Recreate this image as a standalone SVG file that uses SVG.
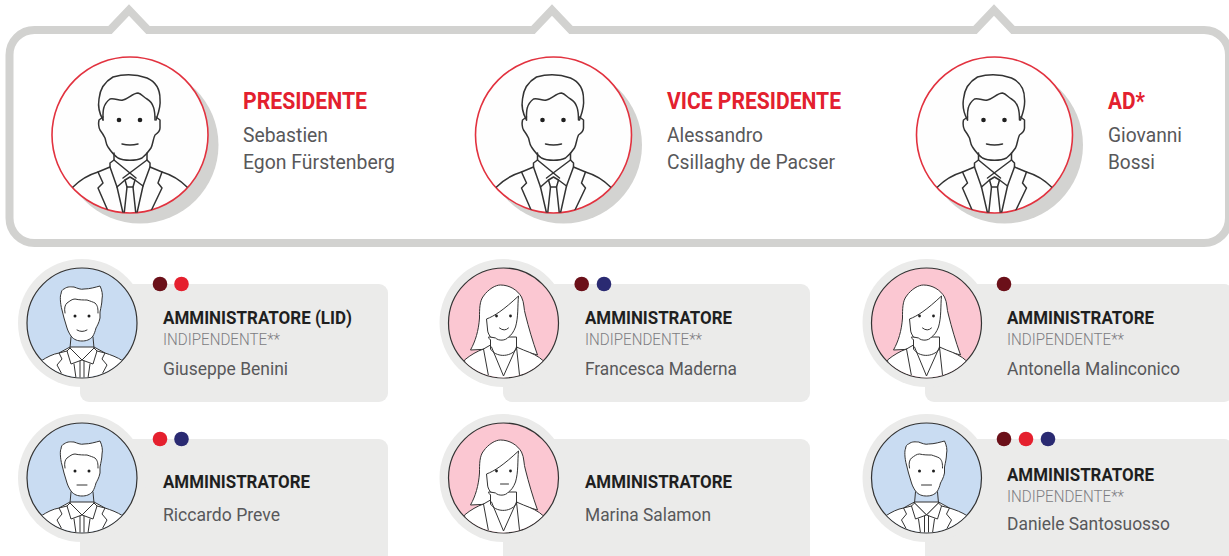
<svg xmlns="http://www.w3.org/2000/svg" xmlns:xlink="http://www.w3.org/1999/xlink" width="1229" height="556" viewBox="0 0 1229 556">
<style>
text{font-family:Roboto,"Liberation Sans",sans-serif}
.ln{fill:none;stroke:#333;stroke-width:1.5;stroke-linejoin:round;stroke-linecap:round}
.sl{fill:none;stroke:#333;stroke-width:1;stroke-linejoin:round;stroke-linecap:round}
.wf{fill:#fff;stroke:#333;stroke-width:1;stroke-linejoin:round}
.role{font-size:24px;font-weight:700;fill:#e3202e}
.name{font-size:21px;font-weight:400;fill:#58585a}
.t{font-size:18.500px;font-weight:700;fill:#1f1f1f}
.i{font-size:16.500px;font-weight:300;fill:#7d7d82}
.n{font-size:18px;font-weight:400;fill:#58585a}
.card{fill:#ebebea}
.big{fill:#fefefe;stroke:#e2323f;stroke-width:1.6}
.shadow{fill:#d3d3d1}
.dk{fill:#6b1019}.rd{fill:#e5202e}.nv{fill:#2a2a72}
.bl{fill:#c9dcf2;stroke:#333;stroke-width:1.2}
.pk{fill:#fbc7d2;stroke:#333;stroke-width:1.2}
</style>
<defs>
<clipPath id="cb"><circle r="78"/></clipPath>
<clipPath id="cs"><circle r="54.5"/></clipPath>
<g id="bigman" clip-path="url(#cb)">
<path class="ln" d="M-27-15C-31-22-32-30-31-36C-30-47-24-54-17-58C-7-61 6-61 17-57C26-53 30-46 30-36C31-28 28-21 26-15"/>
<path class="ln" d="M-27-15C-27-22-28-30-20-36C-15-37-11-34-7-35C-2-36 3-42 8-42C12-41 13-38 17-36C24-32 25-24 25-15"/>
<path class="ln" d="M-27-18L-31-15C-32-10-31-7-30-5C-27-1-26 1-25 3C-24 6-24 10-22 12C-18 18-15 21-12 23C-6 26 6 26 12 23C16 20 19 16 21 13C23 9 23 4 25 0C28-2 30-4 30-7L30-15L26-18"/>
<circle cx="-11" cy="-15" r="2.300" fill="#1f1f1f"/><circle cx="10" cy="-15" r="2.300" fill="#1f1f1f"/>
<path class="ln" d="M-8 9Q0 11 8 9"/>
<path class="ln" d="M-16 18V25L6 43M17 18V25L-7 43"/>
<path class="ln" d="M-16 25L-20 28V32L-13 52L-5 45L0 42L5 45L13 51L20 32V28L17 25"/>
<path class="ln" d="M-5 45L-3 52H3L5 45"/>
<path class="ln" d="M-3 52L-6 80M3 52L6 80M-13 52L-7 78M13 51L7 78"/>
<path class="ln" d="M-20 32L-32 37L-27 48L-32 53L-22 76M20 32L32 37L28 48L32 53L21 76"/>
<path class="ln" d="M-32 37C-42 40-50 45-57 52M32 37C42 40 50 45 57 52"/>
</g>
<g id="smallman" clip-path="url(#cs)">
<path class="wf" d="M-41 38C-35 34-29 31-23 30L-12 24H12L23 30C29 32 35 34 41 38L36 55H-36Z"/>
<path class="wf" d="M-20-13C-22-20-22-28-21-29C-21-32-19-34-18-34C-14-37-11-36-8-36C-5-35-1-33 2-34C8-34 14-36 18-37C20-33 21-28 20-24C20-20 19-16 18-11L18-5C17 0 15 3 14 5C13 9 12 11 11 13C8 17 4 18 0 18C-4 18-8 17-11 13C-13 10-14 8-15 5C-16 2-17-2-18-5Z"/>
<path class="sl" d="M-17-10C-18-15-17-18-15-20C-12-22-10-24-7-24C-3-23 2-23 5-23C8-22 11-21 13-20C16-17 16-14 16-10"/>
<path class="sl" d="M-11 14L-12 25L0 37L12 25L11 14"/>
<path class="wf" d="M-12 25L-15 28L-11 41L0 37L11 41L15 28L12 25L0 37Z"/>
<path class="sl" d="M-2 38V55M2 38V55M-8 41L-6 55M8 41L6 55"/>
<path class="sl" d="M-15 28L-23 30L-20 36L-25 42L-18 55M15 28L23 30L20 36L25 42L18 55"/>
<circle cx="-7" cy="-7" r="1.500" fill="#1f1f1f"/><circle cx="7" cy="-7" r="1.500" fill="#1f1f1f"/>
</g>
<g id="woman" clip-path="url(#cs)">
<path class="wf" d="M-33 27C-28 18-25 8-24-5C-24-14-24-22-20-27C-15-34-8-38-3-38C6-38 14-33 18-26C21-20 20-14 22-8C25 4 29 18 34 32L13 26H-13Z"/>
<path class="wf" d="M-39 37C-33 32-26 28-20 26L-13 22V17C-14 16-15 15-15 14L13 14V24L20 27C28 30 35 33 40 38L36 56H-36Z"/>
<path class="wf" d="M-13 14C-15 11-16 9-16 6L-17-4C-9-7 0-13 15-27C14-18 15-6 12 4C10 9 8 12 5 14C2 18-5 18-8 15Z"/>
<path class="sl" d="M-13 17V26C-8 34 6 35 13 26V16"/>
<path class="sl" d="M-20 26L-15 53M-12 24L0 53L13 24M13 24L16 52"/>
<circle cx="-7" cy="-7" r="1.400" fill="#1f1f1f"/><circle cx="7" cy="-7" r="1.400" fill="#1f1f1f"/>
</g>
<path id="smile" class="sl" d="M-5 7Q0 10 5 7"/>
<path id="flat" class="sl" d="M-5 7H5"/>
<path id="wsmile" class="sl" d="M-4 5Q1 9 5 5"/>
<path id="wflat" class="sl" d="M-3 6H5"/>
</defs>
<rect width="1229" height="556" fill="#fff"/>
<g id="connectors"></g>
<g id="frame">
<path d="M129 10L148 30H533L552 10L571 30H975L994 10L1013 30H1204C1218 30 1229 41 1229 55V218C1229 232 1218 243 1204 243H34.500C20.500 243 9.500 232 9.500 218V55C9.500 41 20.500 30 34.500 30H110Z" fill="#fff" stroke="#d2d2d0" stroke-width="8"/>
</g>
<g id="presidente">
<circle class="shadow" cx="140" cy="145" r="78.500"/>
<circle class="big" cx="130" cy="135" r="78"/>
<use href="#bigman" transform="translate(130 135)"/>
<text class="role" x="243" y="109" textLength="124" lengthAdjust="spacingAndGlyphs">PRESIDENTE</text>
<text class="name" x="243" y="142" textLength="85" lengthAdjust="spacingAndGlyphs">Sebastien</text>
<text class="name" x="243" y="169" textLength="152" lengthAdjust="spacingAndGlyphs">Egon Fürstenberg</text>
</g>
<g id="vice-presidente">
<circle class="shadow" cx="563.500" cy="145" r="78.500"/>
<circle class="big" cx="553.500" cy="135" r="78"/>
<use href="#bigman" transform="translate(553.500 135)"/>
<text class="role" x="667" y="109" textLength="174" lengthAdjust="spacingAndGlyphs">VICE PRESIDENTE</text>
<text class="name" x="667" y="142" textLength="96" lengthAdjust="spacingAndGlyphs">Alessandro</text>
<text class="name" x="667" y="169" textLength="168" lengthAdjust="spacingAndGlyphs">Csillaghy de Pacser</text>
</g>
<g id="ad">
<circle class="shadow" cx="1004.500" cy="145" r="78.500"/>
<circle class="big" cx="994.500" cy="135" r="78"/>
<use href="#bigman" transform="translate(994.500 135)"/>
<text class="role" x="1108" y="109" textLength="37" lengthAdjust="spacingAndGlyphs">AD*</text>
<text class="name" x="1108" y="142" textLength="74" lengthAdjust="spacingAndGlyphs">Giovanni</text>
<text class="name" x="1108" y="169" textLength="47" lengthAdjust="spacingAndGlyphs">Bossi</text>
</g>
<g id="benini">
<rect class="card" x="80" y="284" width="308" height="118" rx="9"/>
<circle class="card" cx="82" cy="323" r="64"/>
<circle class="bl" cx="82" cy="323" r="55"/>
<use href="#smallman" transform="translate(82 323)"/><use href="#smile" transform="translate(82 323)"/>
<circle class="dk" cx="160" cy="284" r="7.300"/><circle class="rd" cx="181.500" cy="284" r="7.300"/>
<text class="t" x="163" y="324" textLength="189" lengthAdjust="spacingAndGlyphs">AMMINISTRATORE (LID)</text>
<text class="i" x="163" y="345" textLength="117" lengthAdjust="spacingAndGlyphs">INDIPENDENTE**</text>
<text class="n" x="163" y="375" textLength="125" lengthAdjust="spacingAndGlyphs">Giuseppe Benini</text>
</g>
<g id="maderna">
<rect class="card" x="503" y="284" width="307" height="118" rx="9"/>
<circle class="card" cx="503.500" cy="323" r="64"/>
<circle class="pk" cx="503.500" cy="323" r="55"/>
<use href="#woman" transform="translate(503.500 323)"/><use href="#wsmile" transform="translate(503.500 323)"/>
<circle class="dk" cx="581.700" cy="284" r="7.300"/><circle class="nv" cx="604" cy="284" r="7.300"/>
<text class="t" x="585" y="324" textLength="147" lengthAdjust="spacingAndGlyphs">AMMINISTRATORE</text>
<text class="i" x="585" y="345" textLength="117" lengthAdjust="spacingAndGlyphs">INDIPENDENTE**</text>
<text class="n" x="585" y="375" textLength="152" lengthAdjust="spacingAndGlyphs">Francesca Maderna</text>
</g>
<g id="malinconico">
<rect class="card" x="925" y="284" width="308" height="118" rx="9"/>
<circle class="card" cx="926.500" cy="323" r="64"/>
<circle class="pk" cx="926.500" cy="323" r="55"/>
<use href="#woman" transform="translate(926.500 323)"/><use href="#wsmile" transform="translate(926.500 323)"/>
<circle class="dk" cx="1004" cy="284" r="7.300"/>
<text class="t" x="1007" y="324" textLength="147" lengthAdjust="spacingAndGlyphs">AMMINISTRATORE</text>
<text class="i" x="1007" y="345" textLength="117" lengthAdjust="spacingAndGlyphs">INDIPENDENTE**</text>
<text class="n" x="1007" y="375" textLength="173" lengthAdjust="spacingAndGlyphs">Antonella Malinconico</text>
</g>
<g id="preve">
<rect class="card" x="80" y="439" width="308" height="125" rx="9"/>
<circle class="card" cx="82" cy="478" r="64"/>
<circle class="bl" cx="82" cy="478" r="55"/>
<use href="#smallman" transform="translate(82 478)"/><use href="#flat" transform="translate(82 478)"/>
<circle class="rd" cx="160" cy="439" r="7.300"/><circle class="nv" cx="181.500" cy="439" r="7.300"/>
<text class="t" x="163" y="488" textLength="147" lengthAdjust="spacingAndGlyphs">AMMINISTRATORE</text>
<text class="n" x="163" y="521" textLength="117" lengthAdjust="spacingAndGlyphs">Riccardo Preve</text>
</g>
<g id="salamon">
<rect class="card" x="503" y="439" width="307" height="125" rx="9"/>
<circle class="card" cx="503.500" cy="478" r="64"/>
<circle class="pk" cx="503.500" cy="478" r="55"/>
<use href="#woman" transform="translate(503.500 478)"/><use href="#wflat" transform="translate(503.500 478)"/>
<text class="t" x="585" y="488" textLength="147" lengthAdjust="spacingAndGlyphs">AMMINISTRATORE</text>
<text class="n" x="585" y="521" textLength="126" lengthAdjust="spacingAndGlyphs">Marina Salamon</text>
</g>
<g id="santosuosso">
<rect class="card" x="925" y="439" width="308" height="125" rx="9"/>
<circle class="card" cx="926.500" cy="478" r="64"/>
<circle class="bl" cx="926.500" cy="478" r="55"/>
<use href="#smallman" transform="translate(926.500 478)"/><use href="#flat" transform="translate(926.500 478)"/>
<circle class="dk" cx="1004" cy="439" r="7.300"/><circle class="rd" cx="1026" cy="439" r="7.300"/><circle class="nv" cx="1048" cy="439" r="7.300"/>
<text class="t" x="1007" y="481" textLength="147" lengthAdjust="spacingAndGlyphs">AMMINISTRATORE</text>
<text class="i" x="1007" y="502" textLength="117" lengthAdjust="spacingAndGlyphs">INDIPENDENTE**</text>
<text class="n" x="1007" y="530" textLength="163" lengthAdjust="spacingAndGlyphs">Daniele Santosuosso</text>
</g>
</svg>
